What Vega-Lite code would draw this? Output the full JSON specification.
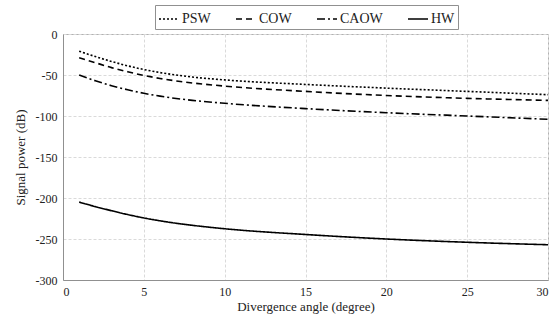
{
  "$schema": "https://vega.github.io/schema/vega-lite/v6.json",
  "autosize": "none",
  "width": 485,
  "height": 246,
  "padding": {"left": 63, "top": 34, "right": 7, "bottom": 41},
  "background": "white",
  "config": {
    "font": "Liberation Serif",
    "axis": {
      "labelFont": "Liberation Serif",
      "titleFont": "Liberation Serif",
      "labelFontSize": 12, "titleFontSize": 13, "titleFontWeight": "normal",
      "labelColor": "#222", "titleColor": "#222"
    },
    "legend": {"labelFont": "Liberation Serif"},
    "view": {"stroke": "#b0b0b0", "strokeWidth": 1}
  },
  "data": {
    "values": [
      {"angle": 1, "power": -21, "series": "PSW"},
      {"angle": 2, "power": -27.5, "series": "PSW"},
      {"angle": 3, "power": -33.5, "series": "PSW"},
      {"angle": 4, "power": -38.8, "series": "PSW"},
      {"angle": 5, "power": -43.3, "series": "PSW"},
      {"angle": 6, "power": -47, "series": "PSW"},
      {"angle": 7, "power": -50, "series": "PSW"},
      {"angle": 8, "power": -52.5, "series": "PSW"},
      {"angle": 10, "power": -56, "series": "PSW"},
      {"angle": 15, "power": -61.5, "series": "PSW"},
      {"angle": 20, "power": -66, "series": "PSW"},
      {"angle": 25, "power": -70, "series": "PSW"},
      {"angle": 30, "power": -74, "series": "PSW"},
      {"angle": 1, "power": -29, "series": "COW"},
      {"angle": 2, "power": -35, "series": "COW"},
      {"angle": 3, "power": -41, "series": "COW"},
      {"angle": 4, "power": -46, "series": "COW"},
      {"angle": 5, "power": -50.5, "series": "COW"},
      {"angle": 6, "power": -54.2, "series": "COW"},
      {"angle": 7, "power": -57.2, "series": "COW"},
      {"angle": 8, "power": -59.7, "series": "COW"},
      {"angle": 10, "power": -63.5, "series": "COW"},
      {"angle": 15, "power": -70, "series": "COW"},
      {"angle": 20, "power": -75, "series": "COW"},
      {"angle": 25, "power": -78.5, "series": "COW"},
      {"angle": 30, "power": -81, "series": "COW"},
      {"angle": 1, "power": -50, "series": "CAOW"},
      {"angle": 2, "power": -57, "series": "CAOW"},
      {"angle": 3, "power": -63, "series": "CAOW"},
      {"angle": 4, "power": -68, "series": "CAOW"},
      {"angle": 5, "power": -72.3, "series": "CAOW"},
      {"angle": 6, "power": -75.8, "series": "CAOW"},
      {"angle": 7, "power": -78.6, "series": "CAOW"},
      {"angle": 8, "power": -80.9, "series": "CAOW"},
      {"angle": 10, "power": -84.5, "series": "CAOW"},
      {"angle": 15, "power": -91, "series": "CAOW"},
      {"angle": 20, "power": -96, "series": "CAOW"},
      {"angle": 25, "power": -100, "series": "CAOW"},
      {"angle": 30, "power": -104, "series": "CAOW"},
      {"angle": 1, "power": -205, "series": "HW"},
      {"angle": 2, "power": -210.5, "series": "HW"},
      {"angle": 3, "power": -215.5, "series": "HW"},
      {"angle": 4, "power": -220.2, "series": "HW"},
      {"angle": 5, "power": -224.3, "series": "HW"},
      {"angle": 6, "power": -227.8, "series": "HW"},
      {"angle": 7, "power": -230.8, "series": "HW"},
      {"angle": 8, "power": -233.3, "series": "HW"},
      {"angle": 10, "power": -237.5, "series": "HW"},
      {"angle": 15, "power": -244.5, "series": "HW"},
      {"angle": 20, "power": -250, "series": "HW"},
      {"angle": 25, "power": -254, "series": "HW"},
      {"angle": 30, "power": -257, "series": "HW"}
    ]
  },
  "mark": {"type": "line", "interpolate": "monotone", "color": "black"},
  "encoding": {
    "x": {
      "field": "angle", "type": "quantitative",
      "scale": {"domain": [0, 30], "nice": false},
      "axis": {
        "title": "Divergence angle (degree)", "values": [0, 5, 10, 15, 20, 25, 30],
        "domainColor": "#909090", "ticks": false, "labelPadding": 6, "titlePadding": 3,
        "gridColor": "#dadada", "gridDash": [3, 2]
      }
    },
    "y": {
      "field": "power", "type": "quantitative",
      "scale": {"domain": [-300, 0], "nice": false},
      "axis": {
        "title": "Signal power (dB)", "values": [0, -50, -100, -150, -200, -250, -300],
        "labelExpr": "replace(datum.label, '\u2212', '-')",
        "domainColor": "#909090", "ticks": false, "labelPadding": 6, "titlePadding": 8,
        "gridColor": "#dadada", "gridDash": [3, 2]
      }
    },
    "strokeDash": {
      "field": "series", "type": "nominal",
      "scale": {"domain": ["PSW", "COW", "CAOW", "HW"], "range": [[2, 2], [6, 4], [8, 3, 2, 3], [1, 0]]},
      "legend": {
        "title": null, "orient": "none", "direction": "horizontal", "columns": 4,
        "legendX": 92, "legendY": -29,
        "strokeColor": "#909090", "fillColor": "white", "padding": 3,
        "symbolType": "stroke", "symbolSize": 400, "symbolStrokeWidth": 1.6, "symbolStrokeColor": "black",
        "labelFontSize": 14, "labelColor": "#222",
        "columnPadding": 21, "labelOffset": 2
      }
    },
    "strokeWidth": {
      "field": "series", "type": "nominal",
      "scale": {"domain": ["PSW", "COW", "CAOW", "HW"], "range": [1.6, 1.6, 1.4, 2]},
      "legend": null
    }
  }
}
